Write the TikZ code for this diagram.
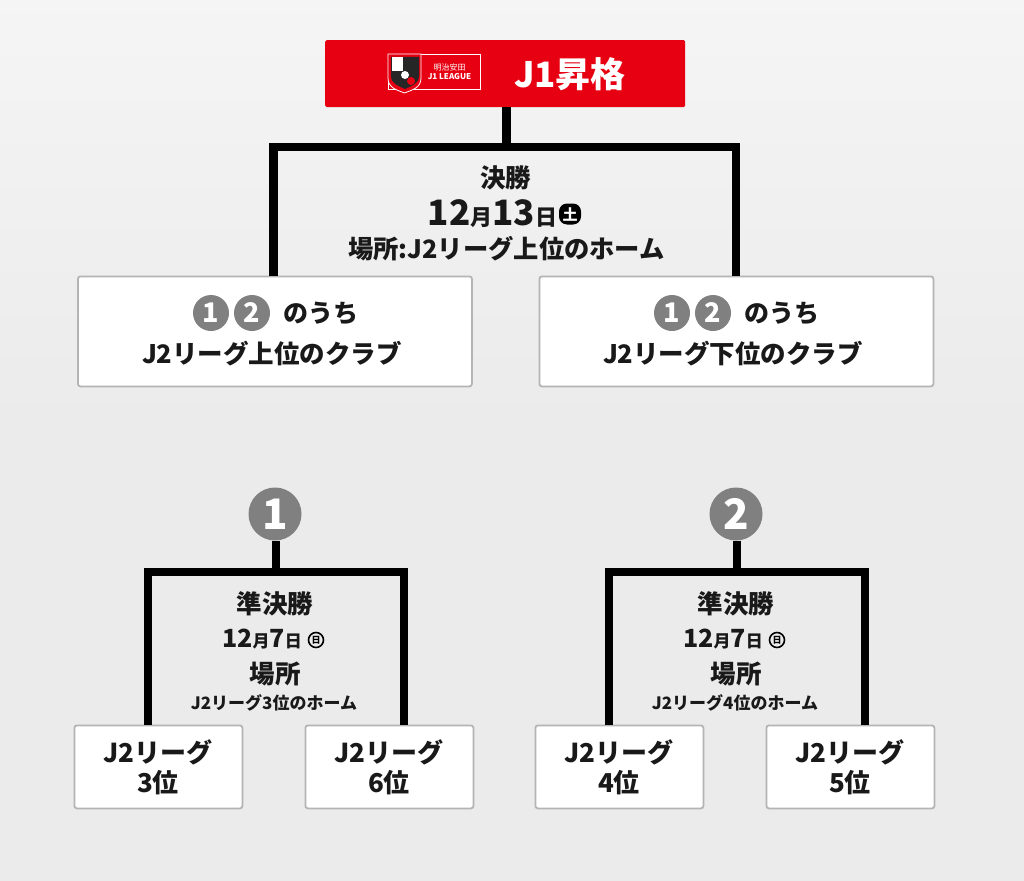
\documentclass[tikz,border=0pt]{standalone}
\usepackage{fontspec}
\setmainfont{Noto Sans CJK JP}
\newcommand{\fs}[1]{\fontsize{#1}{#1}\selectfont}
\definecolor{jred}{HTML}{E60012}
\definecolor{cgrey}{HTML}{808080}
\definecolor{bgrey}{HTML}{B4B4B4}
\tikzset{
  bar/.style={draw=black,line width=#1,line cap=butt,line join=miter},
  whitebox/.style={draw=bgrey,line width=1.8pt,fill=white,rounded corners=2.5pt,inner sep=0pt,anchor=north west},
  txt/.style={inner sep=0pt,text=black!90,font=\bfseries},
  numc/.style={circle,fill=cgrey,draw=none,inner sep=0pt,text=white,font=\bfseries},
}
\begin{document}
\begin{tikzpicture}[x=1pt,y=-1pt]
\useasboundingbox (0,0) rectangle (1024,880);
\shade[top color=black!4,bottom color=black!8,middle color=black!8] (0,0) rectangle (1024,880);

% header
\node[fill=jred,rounded corners=1.5pt,minimum width=360pt,minimum height=67pt,inner sep=0pt,anchor=north west] (head) at (325,40) {};
\node[txt,text=white,font=\bfseries\fs{35}] (headtxt) at (570,74) {J1昇格};
% logo
\draw[white,line width=.7pt] (388,54) rectangle (480,89);
\fill[jred,draw=white,line width=.8pt] (388,54) -- (421,54) -- (421,78) .. controls (421,88) and (412,90) .. (404.5,93) .. controls (397,90) and (388,88) .. (388,78) -- cycle;
\fill[black!85] (391,57) -- (419,57) -- (419,76) .. controls (419,84) and (411,86) .. (405,89) .. controls (399,86) and (391,84) .. (391,76) -- cycle;
\fill[white] (392,57.5) rectangle (402.5,71);
\fill[white] (405,75) circle (4pt);
\fill[jred] (411,81) circle (4pt);
\node[inner sep=0pt,text=white,font=\fs{8}] (lg1) at (449.5,67) {明治安田};
\node[inner sep=0pt,text=white,font=\bfseries\fs{8}] (lg2) at (449.5,77) {J1 LEAGUE};

% final
\node[whitebox,minimum width=394pt,minimum height=110pt] (fl) at (77,275.5) {};
\node[whitebox,minimum width=394pt,minimum height=110pt] (fr) at (538.5,275.5) {};
\coordinate (ftl) at (273.5,147);
\coordinate (ftr) at (736,147);
\coordinate (fstem) at (506.5,147);
\draw[bar=8.6pt] (fl.north -| ftl) -- (ftl) -- (ftr) -- (fr.north -| ftr);
\draw[bar=8.6pt] (head.south -| fstem) -- (fstem);
\node[txt,font=\bfseries\fs{25.5}] (ft1) at (505.5,178) {決勝};
\node[txt,anchor=base] (ft2) at (492.5,225) {\fs{35}12\fs{22}月\fs{35}13\fs{22}日};
\node[fill=black,rounded corners=8pt,minimum width=22pt,minimum height=21pt,inner sep=0pt,text=white,font=\bfseries\fs{15}] (ftd) at (570,214) {土};
\node[txt,font=\bfseries\fs{25.3}] (ft3) at (506.5,249) {場所:J2リーグ上位のホーム};

\foreach \n/\xo/\lab in {a/0/上,b/461/下}{
  \begin{scope}[xshift=\xo pt]
  \node[numc,minimum size=36pt,font=\bfseries\fs{27}] (c1\n) at (211,313) {1};
  \node[numc,minimum size=36pt,font=\bfseries\fs{27}] (c2\n) at (252,313) {2};
  \node[txt,font=\bfseries\fs{25}] (u\n) at (320.5,313) {のうち};
  \node[txt,font=\bfseries\fs{25.5}] (v\n) at (272,354) {J2リーグ\lab 位のクラブ};
  \end{scope}
}

% semifinals
\foreach \n/\xo/\num/\ra/\rb in {a/0/1/3/6,b/461/2/4/5}{
  \begin{scope}[xshift=\xo pt]
  \node[numc,minimum size=53pt,font=\bfseries\fs{42}] (top\n) at (275,514) {\num};
  \node[whitebox,minimum width=168pt,minimum height=83pt,align=center] (bl\n) at (73.5,724.5) {};
  \node[whitebox,minimum width=168pt,minimum height=83pt,align=center] (br\n) at (304.5,724.5) {};
  \coordinate (tl\n) at (148,572);
  \coordinate (tr\n) at (404,572);
  \coordinate (ts\n) at (276,572);
  \draw[bar=8pt] (bl\n.north -| tl\n) -- (tl\n) -- (tr\n) -- (br\n.north -| tr\n);
  \draw[bar=8pt] (top\n.south -| ts\n) -- (ts\n);
  \node[txt,font=\bfseries\fs{25.5}] (s1\n) at (275,604) {準決勝};
  \node[txt,anchor=base] (s2\n) at (262,647) {\fs{25}12\fs{17}月\fs{25}7\fs{17}日};
  \node[circle,draw=black,line width=1.6pt,minimum size=15pt,inner sep=0pt,font=\bfseries\fs{9}] (sd\n) at (316,640) {日};
  \node[txt,font=\bfseries\fs{25.5}] (s3\n) at (275,674) {場所};
  \node[txt,font=\bfseries\fs{17}] (s4\n) at (274,703) {J2リーグ\ra 位のホーム};
  \node[txt,font=\bfseries\fs{26}] (l1\n) at (158,752) {J2リーグ};
  \node[txt,font=\bfseries\fs{26}] (l2\n) at (158,783) {\ra 位};
  \node[txt,font=\bfseries\fs{26}] (r1\n) at (389,752) {J2リーグ};
  \node[txt,font=\bfseries\fs{26}] (r2\n) at (389,783) {\rb 位};
  \end{scope}
}
\end{tikzpicture}
\end{document}
